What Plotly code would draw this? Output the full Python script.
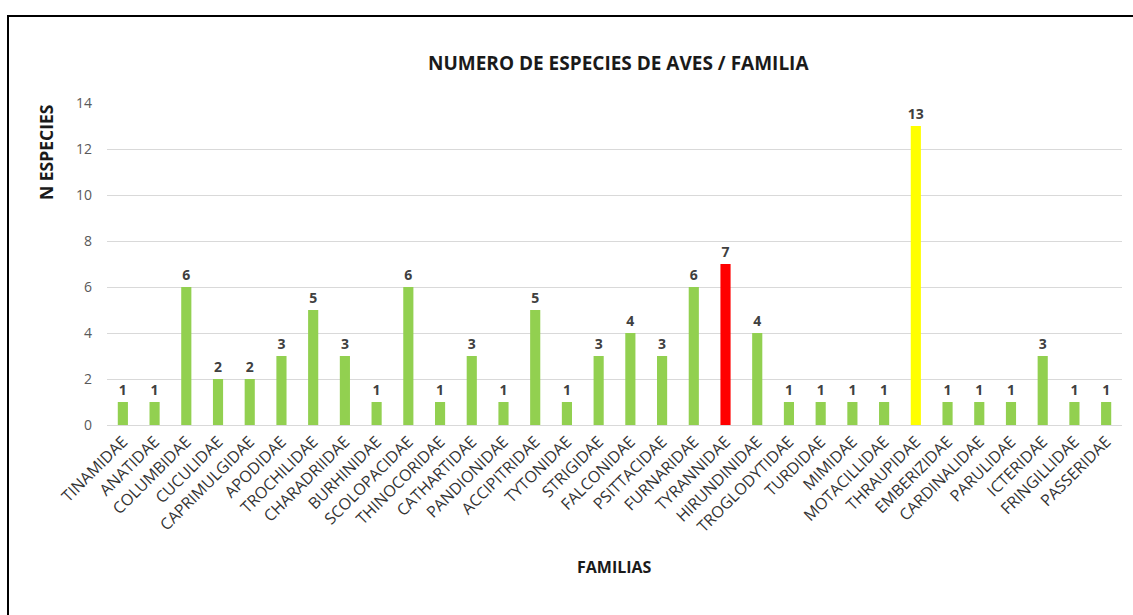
import plotly.graph_objects as go

familias = ["TINAMIDAE", "ANATIDAE", "COLUMBIDAE", "CUCULIDAE", "CAPRIMULGIDAE", "APODIDAE",
            "TROCHILIDAE", "CHARADRIIDAE", "BURHINIDAE", "SCOLOPACIDAE", "THINOCORIDAE",
            "CATHARTIDAE", "PANDIONIDAE", "ACCIPITRIDAE", "TYTONIDAE", "STRIGIDAE",
            "FALCONIDAE", "PSITTACIDAE", "FURNARIDAE", "TYRANNIDAE", "HIRUNDINIDAE",
            "TROGLODYTIDAE", "TURDIDAE", "MIMIDAE", "MOTACILLIDAE", "THRAUPIDAE",
            "EMBERIZIDAE", "CARDINALIDAE", "PARULIDAE", "ICTERIDAE", "FRINGILLIDAE",
            "PASSERIDAE"]
especies = [1, 1, 6, 2, 2, 3, 5, 3, 1, 6, 1, 3, 1, 5, 1, 3, 4, 3, 6, 7, 4,
            1, 1, 1, 1, 13, 1, 1, 1, 3, 1, 1]
y_ticks = [0, 2, 4, 6, 8, 10, 12, 14]

colores = []
for f in familias:
    if f == "TYRANNIDAE":
        colores.append("#FF0000")
    elif f == "THRAUPIDAE":
        colores.append("#FFFF00")
    else:
        colores.append("#92D050")

FONT = "Open Sans"

fig = go.Figure(go.Bar(
    x=familias, y=especies, marker=dict(color=colores, line=dict(width=0)),
    width=0.32,
    text=[str(v) for v in especies], textposition="outside",
    constraintext="none",
    textfont=dict(family=FONT, size=14, color="#404040", weight="bold"),
    cliponaxis=False,
))

fig.update_layout(
    width=1133, height=615,
    margin=dict(l=107, r=11, t=103, b=190),
    paper_bgcolor="white", plot_bgcolor="white",
    showlegend=False,
    font=dict(family=FONT),
    uniformtext=dict(mode=False),
    xaxis=dict(tickangle=-45, tickfont=dict(family=FONT, size=16, color="#333333"),
               showgrid=False, showline=True, linecolor="#D9D9D9", linewidth=1,
               ticks="", range=[-0.5, len(familias) - 0.5]),
    yaxis=dict(range=[0, 14], tickvals=y_ticks, showgrid=True, gridcolor="#D9D9D9",
               gridwidth=1, zeroline=False, showline=False,
               tickfont=dict(family=FONT, size=14, color="#595959"), ticks="",
               ticklabelstandoff=14),
    annotations=[
        dict(text="<b>NUMERO DE ESPECIES DE AVES / FAMILIA</b>", x=618, y=615 - 63,
             showarrow=False, xanchor="center", yanchor="middle",
             font=dict(family=FONT, size=19, color="#1a1a1a")),
        dict(text="<b>FAMILIAS</b>", x=614, y=615 - 567, showarrow=False,
             xanchor="center", yanchor="middle",
             font=dict(family=FONT, size=16, color="#1a1a1a")),
        dict(text="<b>N ESPECIES</b>", x=46, y=615 - 153, showarrow=False, textangle=-90,
             xanchor="center", yanchor="middle",
             font=dict(family=FONT, size=17.5, color="#1a1a1a")),
    ],
    shapes=[dict(type="rect", x0=8, y0=-10, x1=1140, y1=615 - 16,
                 line=dict(color="black", width=2), fillcolor="rgba(0,0,0,0)")],
)

# Annotations and frame use pixel positions converted to paper coordinates
W, H = 1133, 615
L, R, T, B = 107, 11, 103, 190
pw, ph = W - L - R, H - T - B
for a in fig.layout.annotations:
    a.xref = "paper"
    a.yref = "paper"
    a.x = (a.x - L) / pw
    a.y = (a.y - B) / ph
for s in fig.layout.shapes:
    s.xref = "paper"
    s.yref = "paper"
    s.x0 = (s.x0 - L) / pw
    s.x1 = (s.x1 - L) / pw
    s.y0 = (s.y0 - B) / ph
    s.y1 = (s.y1 - B) / ph

fig.write_html("out.html")
